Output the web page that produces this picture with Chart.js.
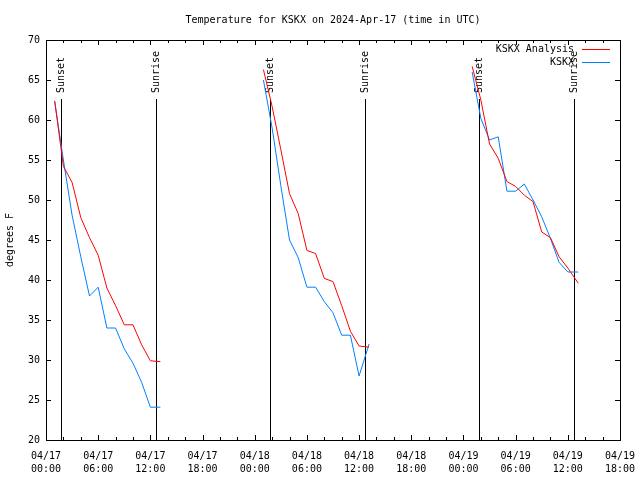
<!DOCTYPE html>
<html>
<head>
<meta charset="utf-8">
<script src="https://cdn.jsdelivr.net/npm/chart.js@4.4.1/dist/chart.umd.min.js"></script>
<style>html,body{margin:0;padding:0;background:#fff;}canvas{display:block;}</style>
</head>
<body>
<canvas id="c" width="640" height="480"></canvas>
<script>
// ---- text ----
const TITLE = 'Temperature for KSKX on 2024-Apr-17 (time in UTC)';
const Y_TITLE = 'degrees F';
const SERIES_NAMES = ['KSKX Analysis', 'KSKX'];

// ---- x tick labels (every 6 h from 2024-04-17 00:00 UTC) ----
const dateLabels = ['04/17','04/17','04/17','04/17','04/18','04/18','04/18','04/18','04/19','04/19','04/19','04/19'];
const timeLabels = ['00:00','06:00','12:00','18:00','00:00','06:00','12:00','18:00','00:00','06:00','12:00','18:00'];

// ---- data: hours since 2024-04-17 00:00 UTC ----
const night1Hours = [1,2,3,4,5,6,7,8,9,10,11,12,13.15];
const night2Hours = [25,26,27,28,29,30,31,32,33,34,35,36,37.15];
const night3Hours = [49,50,51,52,53,54,55,56,57,58,59,60,61.2];

const analysisTemps1 = [62.4,54.2,52.2,47.8,45.3,43.1,39.0,36.8,34.4,34.4,31.9,29.9,29.8];
const analysisTemps2 = [66.3,61.7,56.3,50.8,48.3,43.7,43.3,40.2,39.8,36.8,33.6,31.75,31.6];
const analysisTemps3 = [66.7,62.5,57.0,55.2,52.3,51.7,50.6,49.8,46.0,45.3,42.9,41.5,39.6];

const observedTemps1 = [62.3,55.0,48.1,42.9,38.0,39.1,34.0,34.0,31.4,29.6,27.2,24.1,24.1];
const observedTemps2 = [65.0,59.0,51.8,45.0,42.8,39.1,39.1,37.3,35.9,33.1,33.1,28.0,32.0];
const observedTemps3 = [66.0,60.2,57.5,57.9,51.1,51.1,52.0,50.0,47.9,45.2,42.2,41.0,41.0];

// sunset / sunrise markers (hours)
const sunsetHours  = [1.72, 25.77, 49.83];
const sunriseHours = [12.62, 36.65, 60.7];

const FONT = "'DejaVu Sans Mono', 'Liberation Mono', monospace";
const RED = '#ff0000';
const BLUE = '#0080ff';

function joinNights(hourLists, tempLists) {
  const out = [];
  hourLists.forEach((hs, k) => {
    if (k > 0) {
      const prev = hourLists[k - 1];
      out.push({ x: (prev[prev.length - 1] + hs[0]) / 2, y: null });
    }
    hs.forEach((h, i) => out.push({ x: h, y: tempLists[k][i] }));
  });
  return out;
}

const gnuplotLook = {
  id: 'gnuplotLook',
  beforeDatasetsDraw(chart) {
    const { ctx, chartArea: a, scales: { x } } = chart;
    ctx.save();
    ctx.strokeStyle = '#000';
    ctx.fillStyle = '#000';
    ctx.lineWidth = 1;
    ctx.font = '10px ' + FONT;
    const marks = sunsetHours.map(h => [h, 'Sunset']).concat(sunriseHours.map(h => [h, 'Sunrise']));
    marks.forEach(([h, label]) => {
      const px = Math.round(x.getPixelForValue(h)) + 0.5;
      ctx.beginPath();
      ctx.moveTo(px, a.bottom);
      ctx.lineTo(px, a.top + 59);
      ctx.stroke();
      ctx.save();
      ctx.translate(px, a.top + 53);
      ctx.rotate(-Math.PI / 2);
      ctx.textAlign = 'left';
      ctx.textBaseline = 'middle';
      ctx.fillText(label, 0, 0);
      ctx.restore();
    });
    ctx.restore();
  },
  afterDraw(chart) {
    const { ctx, chartArea: a, scales: { x, y } } = chart;
    ctx.save();
    ctx.strokeStyle = '#000';
    ctx.lineWidth = 1;
    // frame
    ctx.strokeRect(a.left + 0.5, a.top + 0.5, a.right - a.left, a.bottom - a.top);
    // y ticks (inward, mirrored)
    ctx.beginPath();
    for (let v = y.min; v <= y.max; v += 5) {
      const py = Math.round(y.getPixelForValue(v)) + 0.5;
      ctx.moveTo(a.left, py); ctx.lineTo(a.left + 5, py);
      ctx.moveTo(a.right, py); ctx.lineTo(a.right - 5, py);
    }
    // x ticks: major every 6 h, minor every 2 h
    for (let h = x.min; h <= x.max; h += 2) {
      const len = h % 6 === 0 ? 5 : 3;
      const px = Math.round(x.getPixelForValue(h)) + 0.5;
      ctx.moveTo(px, a.bottom); ctx.lineTo(px, a.bottom - len);
      ctx.moveTo(px, a.top); ctx.lineTo(px, a.top + len);
    }
    ctx.stroke();
    // title
    ctx.fillStyle = '#000';
    ctx.font = '10px ' + FONT;
    ctx.textAlign = 'center';
    ctx.textBaseline = 'middle';
    ctx.fillText(TITLE, (a.left + a.right) / 2, a.top - 20);
    // legend
    ctx.textAlign = 'right';
    chart.data.datasets.forEach((d, i) => {
      const ly = a.top + 9 + i * 13;
      ctx.fillStyle = '#000';
      ctx.fillText(d.label, a.right - 46, ly);
      ctx.strokeStyle = d.borderColor;
      ctx.beginPath();
      ctx.moveTo(a.right - 38, Math.round(ly) + 0.5);
      ctx.lineTo(a.right - 10, Math.round(ly) + 0.5);
      ctx.stroke();
    });
    ctx.restore();
  }
};

new Chart(document.getElementById('c'), {
  type: 'line',
  data: {
    datasets: [
      { label: SERIES_NAMES[0], data: joinNights([night1Hours, night2Hours, night3Hours], [analysisTemps1, analysisTemps2, analysisTemps3]), borderColor: RED, backgroundColor: RED },
      { label: SERIES_NAMES[1], data: joinNights([night1Hours, night2Hours, night3Hours], [observedTemps1, observedTemps2, observedTemps3]), borderColor: BLUE, backgroundColor: BLUE }
    ]
  },
  options: {
    responsive: false,
    animation: false,
    devicePixelRatio: 1,
    spanGaps: false,
    layout: { padding: { top: 40, right: 20, bottom: 0, left: 0 } },
    elements: { point: { radius: 0 }, line: { borderWidth: 1, tension: 0 } },
    plugins: { legend: { display: false }, title: { display: false }, tooltip: { enabled: false } },
    scales: {
      x: {
        type: 'linear', min: 0, max: 66,
        grid: { display: false, drawTicks: false },
        border: { display: false },
        ticks: {
          stepSize: 6, autoSkip: false, maxRotation: 0, minRotation: 0, padding: 10,
          color: '#000', font: { family: FONT, size: 10, lineHeight: 1.3 },
          callback: (v) => { const i = Math.round(v / 6); return [dateLabels[i], timeLabels[i]]; }
        },
        afterFit(s) { s.height = 40; s.paddingLeft = 0; s.paddingRight = 0; }
      },
      y: {
        min: 20, max: 70,
        grid: { display: false, drawTicks: false },
        border: { display: false },
        ticks: { stepSize: 5, padding: 6, color: '#000', font: { family: FONT, size: 10 } },
        title: { display: true, text: Y_TITLE, color: '#000', font: { family: FONT, size: 10 }, padding: { top: 4, bottom: 0 } },
        afterFit(s) { s.width = 46; s.paddingTop = 0; s.paddingBottom = 0; }
      }
    }
  },
  plugins: [gnuplotLook]
});
</script>
</body>
</html>
